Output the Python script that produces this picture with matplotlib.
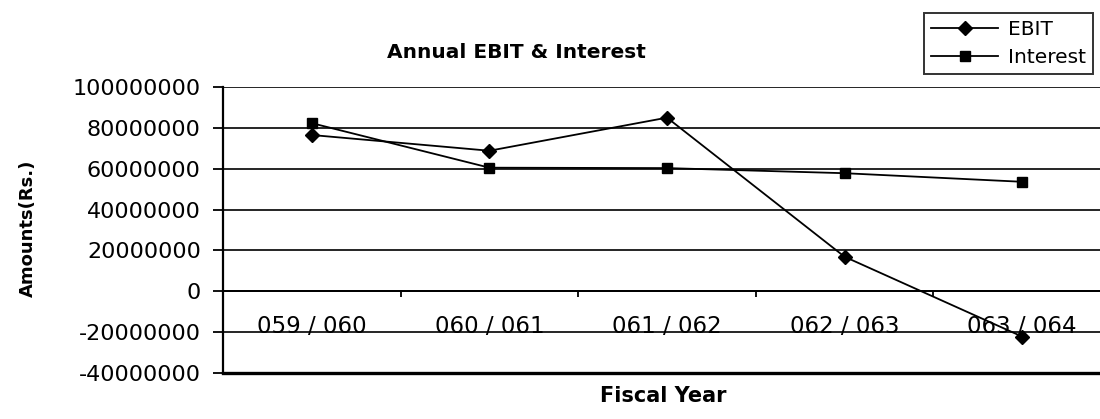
import matplotlib
matplotlib.use("Agg")
import matplotlib.pyplot as plt
from matplotlib.ticker import FixedLocator

categories = ["059 / 060", "060 / 061", "061 / 062", "062 / 063", "063 / 064"]
ebit = [76500000, 68800000, 85000000, 16900000, -22200000]
interest = [82300000, 60500000, 60300000, 57800000, 53600000]
yticks = [-40000000, -20000000, 0, 20000000, 40000000, 60000000, 80000000, 100000000]

plt.rcParams['font.family'] = ['DejaVu Sans']

W, H = 1100, 419
fig = plt.figure(figsize=(W / 100, H / 100), dpi=100)
left, right, top, bottom = 223, 1111, 87, 373
ax = fig.add_axes([left / W, 1 - bottom / H, (right - left) / W, (bottom - top) / H])

x = list(range(1, len(categories) + 1))
ax.plot(x, ebit, color='black', lw=1.3, marker='D', ms=7, label='EBIT', zorder=3, clip_on=False)
ax.plot(x, interest, color='black', lw=1.3, marker='s', ms=7, label='Interest', zorder=3, clip_on=False)

ax.set_xlim(0.5, len(categories) + 0.5)
ax.set_ylim(yticks[0], yticks[-1])
ax.set_yticks(yticks)
ax.set_yticklabels([str(v) for v in yticks])
ax.yaxis.grid(True, color='black', lw=1.2)
ax.set_axisbelow(True)

for s in ['top', 'right']:
    ax.spines[s].set_visible(False)
ax.spines['left'].set_linewidth(1.6)
ax.spines['bottom'].set_position(('data', 0))
ax.spines['bottom'].set_linewidth(1.4)
ax.axhline(yticks[0], color='black', lw=2.4, clip_on=False, zorder=2)

ax.set_xticks(x)
ax.set_xticklabels(categories)
ax.xaxis.set_minor_locator(FixedLocator([i + 0.5 for i in range(len(categories))]))
ax.tick_params(axis='x', which='major', length=0, pad=17, labelsize=16.5)
ax.tick_params(axis='x', which='minor', length=4, width=1.3, direction='out')
ax.tick_params(axis='y', which='major', length=7, width=1.3, direction='out', pad=9, labelsize=16)

fig.text(28 / W, 1 - 228 / H, 'Amounts(Rs.)', rotation=90, ha='center', va='center',
         fontsize=13, fontweight='bold')
fig.text(663 / W, 1 - 396 / H, 'Fiscal Year', ha='center', va='center', fontsize=15, fontweight='bold')
fig.text(516 / W, 1 - 52 / H, 'Annual EBIT & Interest', ha='center', va='center', fontsize=14.5, fontweight='bold')

leg = fig.legend(loc='upper right', bbox_to_anchor=(1093 / W, 1 - 13 / H), borderaxespad=0,
                 fancybox=False, frameon=True, edgecolor='black', fontsize=14.5,
                 handlelength=3.3, handletextpad=0.5, labelspacing=0.45, borderpad=0.35)
leg.get_frame().set_linewidth(1.4)

fig.savefig('out.png', dpi=100)
